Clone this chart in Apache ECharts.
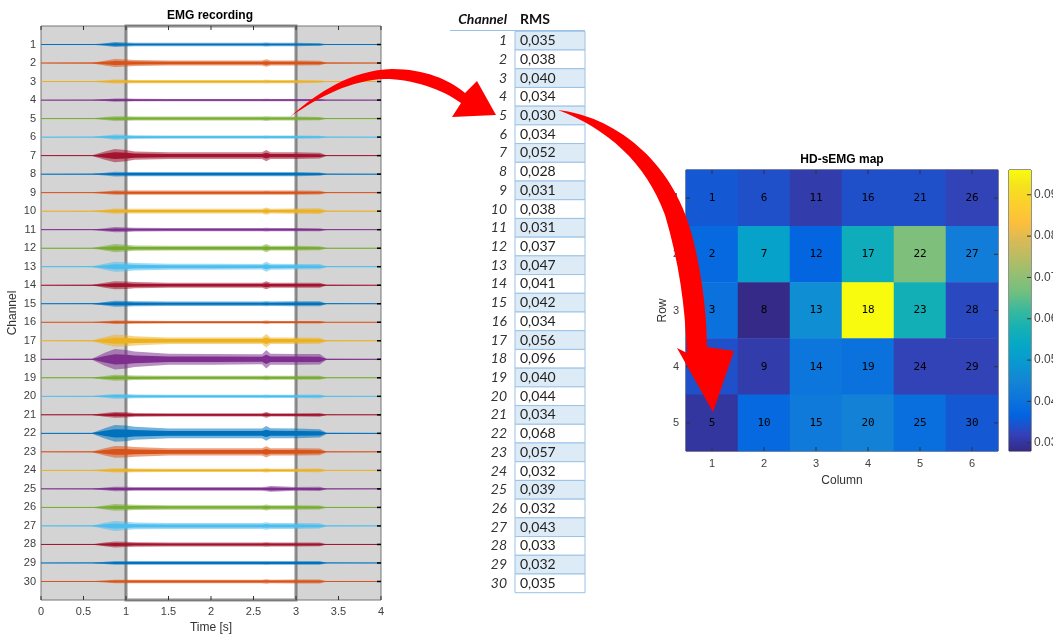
<!DOCTYPE html>
<html><head><meta charset="utf-8">
<script src="https://cdn.jsdelivr.net/npm/echarts@6/dist/echarts.min.js"></script>
<style>html,body{margin:0;padding:0;background:#fff}#c{width:1053px;height:634px}</style>
</head><body><div id="c"></div>
<script>
// ---- data ----
const channels = [1,2,3,4,5,6,7,8,9,10,11,12,13,14,15,16,17,18,19,20,21,22,23,24,25,26,27,28,29,30];
const rmsValues = [0.035,0.038,0.040,0.034,0.030,0.034,0.052,0.028,0.031,0.038,0.031,0.037,0.047,0.041,0.042,0.034,0.056,0.096,0.040,0.044,0.034,0.068,0.057,0.032,0.039,0.032,0.043,0.033,0.032,0.035];
const timeTicks = [0,0.5,1,1.5,2,2.5,3,3.5,4];
// time knots (s) at which the EMG envelope half-amplitude was read
const timeKnots = [0, 0.6, 0.75, 0.87, 1.0, 1.1, 1.5, 2.0, 2.6, 2.65, 2.7, 3.0, 3.28, 3.36, 4.0];
// envelope half-amplitude (channel-spacing units) per channel at timeKnots
const emgEnvelope = [
 [.01,.015,.07,.13,.11,.09,.09,.09,.09,.11,.09,.09,.07,.015,.01],
 [.01,.02,.13,.22,.19,.16,.14,.14,.14,.20,.14,.14,.12,.02,.01],
 [.01,.015,.07,.11,.10,.09,.09,.09,.09,.10,.09,.09,.07,.015,.01],
 [.01,.012,.05,.09,.08,.07,.06,.06,.06,.07,.06,.06,.05,.012,.01],
 [.01,.015,.08,.13,.12,.11,.11,.11,.11,.13,.11,.11,.09,.015,.01],
 [.01,.015,.08,.14,.12,.10,.09,.09,.09,.10,.09,.09,.07,.015,.01],
 [.01,.02,.22,.36,.30,.22,.18,.18,.18,.30,.18,.18,.16,.02,.01],
 [.01,.015,.08,.13,.12,.11,.11,.11,.11,.12,.11,.11,.09,.015,.01],
 [.01,.015,.07,.12,.11,.11,.11,.11,.11,.12,.11,.11,.10,.015,.01],
 [.01,.015,.08,.14,.13,.13,.13,.13,.13,.20,.13,.14,.16,.02,.01],
 [.01,.015,.08,.14,.12,.10,.09,.09,.09,.10,.09,.09,.08,.015,.01],
 [.01,.015,.13,.22,.18,.14,.13,.13,.13,.22,.13,.13,.11,.015,.01],
 [.01,.02,.16,.27,.24,.20,.16,.16,.15,.27,.16,.15,.14,.02,.01],
 [.01,.02,.13,.22,.20,.17,.14,.14,.14,.22,.14,.14,.14,.02,.01],
 [.01,.015,.10,.16,.15,.13,.12,.12,.12,.14,.12,.13,.13,.015,.01],
 [.01,.012,.06,.10,.09,.08,.07,.07,.07,.09,.07,.07,.07,.012,.01],
 [.01,.02,.20,.32,.30,.25,.18,.18,.18,.36,.18,.18,.16,.02,.01],
 [.015,.03,.35,.55,.50,.42,.30,.29,.27,.50,.30,.29,.28,.03,.015],
 [.01,.015,.10,.16,.14,.12,.11,.11,.11,.13,.11,.11,.11,.015,.01],
 [.01,.015,.08,.13,.12,.10,.09,.09,.09,.10,.09,.09,.10,.015,.01],
 [.01,.015,.10,.16,.14,.10,.09,.09,.09,.16,.09,.09,.10,.015,.01],
 [.015,.025,.28,.45,.42,.35,.26,.26,.26,.40,.27,.26,.22,.03,.015],
 [.01,.02,.20,.32,.30,.26,.20,.20,.20,.30,.20,.20,.18,.02,.01],
 [.01,.015,.08,.12,.11,.10,.09,.09,.09,.11,.09,.09,.10,.015,.01],
 [.01,.015,.07,.12,.11,.10,.10,.10,.10,.12,.16,.10,.11,.015,.01],
 [.01,.015,.11,.18,.16,.14,.12,.12,.12,.16,.12,.12,.11,.015,.01],
 [.01,.02,.17,.27,.22,.18,.16,.16,.16,.20,.16,.16,.14,.02,.01],
 [.01,.015,.10,.16,.14,.12,.11,.11,.11,.12,.11,.11,.10,.015,.01],
 [.01,.015,.06,.10,.10,.10,.10,.10,.10,.11,.10,.10,.10,.015,.01],
 [.01,.015,.06,.10,.10,.10,.10,.10,.10,.12,.10,.11,.11,.015,.01]
];
const gridColumns = ['1','2','3','4','5','6'];
const gridRows = ['1','2','3','4','5'];
const colorbarTicks = [0.03,0.04,0.05,0.06,0.07,0.08,0.09];
const mapMin = 0.028, mapMax = 0.096;
const traceColors = ['#0072BD','#D95319','#EDB120','#7E2F8E','#77AC30','#4DBEEE','#A2142F'];
const parulaColors = ['#352A87','#3243BA','#0363E1','#0D75DC','#1485D4','#0998D1','#06A7C6','#15B1B4','#38B99E','#70BF80','#92BF73','#B8BC63','#D9BA56','#FCBF3C','#FCCE2E','#F5E01F','#F9FB0E'];
// annotation arrows (SVG path outlines, page pixels)
const arrowPaths = [
 'M290 117 C318 92 352 70 392 69 C425 69 450 80 465 93 L477 81 L496 115 L452 117 L461 103 C442 89 412 79 385 79 C352 80 320 96 290 117 Z',
 'M558 110 C612 116 672 158 692 235 C703 278 707 318 707 347 L734 351 L713 412 L677 348 L687 353 C685 305 679 262 665 215 C646 162 606 128 558 110 Z'
];

// ---- chart ----
const chart = echarts.init(document.getElementById('c'), null, {renderer:'canvas'});
const FONT = 'Liberation Sans';
const axLbl = {color:'#404040', fontSize:11, fontFamily:FONT};
const heatData = [];
for (let c = 0; c < gridColumns.length; c++) {
  for (let r = 0; r < gridRows.length; r++) {
    const ch = channels[c*gridRows.length + r];
    heatData.push([c, r, rmsValues[ch-1], ch]);
  }
}
const TL = 4; // inward tick length, px
const tickLine = (x1,y1,x2,y2,color,w) => ({type:'line', shape:{x1,y1,x2,y2}, style:{stroke:color||'#333', lineWidth:w||1}});

function traceItem(params, api) {
  const ch = api.value(0);
  const env = emgEnvelope[ch-1];
  const col = traceColors[(ch-1) % traceColors.length];
  const up = [], lo = [], iup = [], ilo = [];
  for (let i = 0; i < timeKnots.length; i++) {
    up.push(api.coord([timeKnots[i], ch - env[i]]));
    lo.push(api.coord([timeKnots[i], ch + env[i]]));
    iup.push(api.coord([timeKnots[i], ch - env[i]*0.5]));
    ilo.push(api.coord([timeKnots[i], ch + env[i]*0.5]));
  }
  const a = api.coord([timeKnots[0], ch]);
  const b = api.coord([timeKnots[timeKnots.length-1], ch]);
  return {type:'group', children:[
    {type:'polygon', shape:{points: up.concat(lo.reverse())}, style:{fill:col, opacity:0.55}},
    {type:'polygon', shape:{points: iup.concat(ilo.reverse())}, style:{fill:col, opacity:1}},
    {type:'line', shape:{x1:a[0], y1:a[1], x2:b[0], y2:b[1]}, style:{stroke:col, lineWidth:1}}
  ]};
}

function emgTicks(params, api) {
  const ch = [];
  timeTicks.forEach(t => {
    const top = api.coord([t, 0]), bot = api.coord([t, 31]);
    ch.push(tickLine(top[0], top[1], top[0], top[1]+TL));
    ch.push(tickLine(bot[0], bot[1], bot[0], bot[1]-TL));
  });
  channels.forEach(c => {
    const r = api.coord([4, c]);
    ch.push(tickLine(r[0]-TL, r[1], r[0], r[1], '#000', 1.5));
  });
  return {type:'group', children:ch};
}

function heatTicks(params, api) {
  const ch = [];
  const sz = api.size([1, 1]);
  const nC = gridColumns.length, nR = gridRows.length;
  const topY = api.coord([0, 0])[1] - sz[1]/2;
  const botY = api.coord([0, nR-1])[1] + sz[1]/2;
  const leftX = api.coord([0, 0])[0] - sz[0]/2;
  const rightX = api.coord([nC-1, 0])[0] + sz[0]/2;
  for (let c = 0; c < nC; c++) {
    const x = api.coord([c, 0])[0];
    ch.push(tickLine(x, topY, x, topY+TL));
    ch.push(tickLine(x, botY, x, botY-TL));
  }
  for (let r = 0; r < nR; r++) {
    const y = api.coord([0, r])[1];
    ch.push(tickLine(leftX, y, leftX+TL, y));
    ch.push(tickLine(rightX, y, rightX-TL, y));
  }
  return {type:'group', children:ch};
}

function tableItem(params, api) {
  const idx = params.dataIndex;
  const yc = api.coord([0, idx])[1];
  const h = api.size([0, 1])[1];
  const x0 = api.coord([0, idx])[0];
  const x1 = api.coord([1, idx])[0];
  const txt = rmsValues[idx].toFixed(3).replace('.', ',');
  return {type:'group', children:[
    {type:'rect', shape:{x:x0, y:yc-h/2, width:x1-x0, height:h},
     style:{fill: idx % 2 === 0 ? '#DDEBF7' : '#FFFFFF', stroke:'#9BC2E6', lineWidth:1}},
    {type:'text', x:x0+5, y:yc, style:{text:txt, fill:'#222', font:'14px Lato', textVerticalAlign:'middle', textAlign:'left'}}
  ]};
}

function colorbarItem(params, api) {
  const p0 = api.coord([0, mapMin]);
  const p1 = api.coord([1, mapMax]);
  const kids = [{type:'rect', shape:{x:p0[0], y:p1[1], width:p1[0]-p0[0], height:p0[1]-p1[1]},
    style:{fill:{type:'linear', x:0, y:1, x2:0, y2:0,
      colorStops: parulaColors.map((c,i)=>({offset:i/(parulaColors.length-1), color:c}))}}}];
  colorbarTicks.forEach(v => {
    const p = api.coord([1, v]);
    kids.push(tickLine(p[0]-TL, p[1], p[0], p[1]));
  });
  return {type:'group', children:kids};
}

function arrowItem(params, api) {
  return {type:'path', shape:{pathData: arrowPaths[params.dataIndex]}, style:{fill:'#FF0000'}};
}

const noTick = {show:false};
const option = {
  animation:false,
  backgroundColor:'#fff',
  grid:[
    {left:41, top:26, width:340, height:574, show:true, backgroundColor:'#D4D4D4', borderColor:'#777', borderWidth:1, containLabel:false, outerBoundsMode:'none'},
    {left:515, top:31.3, width:70, height:561.4, show:false, containLabel:false, outerBoundsMode:'none'},
    {left:686, top:170, width:312, height:281, show:true, borderColor:'#262626', borderWidth:1, containLabel:false, outerBoundsMode:'none'},
    {left:1009, top:170, width:22, height:281, show:true, borderColor:'#262626', borderWidth:1, containLabel:false, outerBoundsMode:'none'}
  ],
  xAxis:[
    {gridIndex:0, type:'value', min:0, max:4, interval:0.5, position:'bottom',
     axisLine:{show:false}, axisTick:noTick,
     axisLabel:Object.assign({margin:6, formatter:v=>String(v)}, axLbl), splitLine:{show:false},
     name:'Time [s]', nameLocation:'middle', nameGap:21, nameTextStyle:{fontSize:12, color:'#333', fontFamily:FONT}},
    {gridIndex:1, type:'value', min:0, max:1, show:false},
    {gridIndex:2, type:'category', data:gridColumns, position:'bottom',
     axisLine:{show:false}, axisTick:noTick,
     axisLabel:Object.assign({margin:7}, axLbl), splitLine:{show:false},
     name:'Column', nameLocation:'middle', nameGap:24, nameTextStyle:{fontSize:12, color:'#333', fontFamily:FONT}},
    {gridIndex:3, type:'value', min:0, max:1, show:false}
  ],
  yAxis:[
    {gridIndex:0, type:'value', min:0, max:31, interval:1, inverse:true, position:'left',
     axisLine:{show:false}, axisTick:noTick,
     axisLabel:Object.assign({margin:5, formatter:v=>(v>=1 && v<=30) ? String(v) : ''}, axLbl), splitLine:{show:false},
     name:'Channel', nameLocation:'middle', nameGap:22, nameTextStyle:{fontSize:12, color:'#333', fontFamily:FONT}},
    {gridIndex:1, type:'category', data:channels.map(String), inverse:true,
     axisLine:{show:false}, axisTick:noTick,
     axisLabel:{margin:8, fontStyle:'italic', fontFamily:'Lato', fontSize:14, color:'#333'}},
    {gridIndex:2, type:'category', data:gridRows, inverse:true, position:'left',
     axisLine:{show:false}, axisTick:noTick,
     axisLabel:Object.assign({margin:7}, axLbl), splitLine:{show:false},
     name:'Row', nameLocation:'middle', nameGap:16, nameTextStyle:{fontSize:12, color:'#333', fontFamily:FONT}},
    {gridIndex:3, type:'value', min:mapMin, max:mapMax, position:'right',
     axisLine:{show:false}, splitLine:{show:false}, axisTick:noTick,
     axisLabel:{margin:3, customValues:colorbarTicks, formatter:v=>v.toFixed(2), color:'#404040', fontSize:12, fontFamily:FONT}}
  ],
  visualMap:{type:'continuous', show:false, min:mapMin, max:mapMax, dimension:2, seriesIndex:4, inRange:{color:parulaColors}},
  series:[
    {type:'line', xAxisIndex:0, yAxisIndex:0, data:[[0,0],[4,0]], symbol:'none', lineStyle:{opacity:0}, z:1, silent:true,
     markArea:{silent:true, itemStyle:{color:'#FFFFFF', borderWidth:0}, data:[[{xAxis:1},{xAxis:3}]]}},
    {type:'custom', xAxisIndex:0, yAxisIndex:0, data:channels.map(c=>[c]), encode:{y:0}, renderItem:traceItem, z:2, silent:true},
    {type:'line', xAxisIndex:0, yAxisIndex:0, data:[[0,0],[4,0]], symbol:'none', lineStyle:{opacity:0}, z:3, silent:true,
     markArea:{silent:true, itemStyle:{color:'rgba(0,0,0,0)', borderColor:'rgba(95,95,95,0.7)', borderWidth:3}, data:[[{xAxis:1},{xAxis:3}]]}},
    {type:'custom', xAxisIndex:1, yAxisIndex:1, data:channels.map((c,i)=>[0,i]), encode:{x:0, y:1}, renderItem:tableItem, silent:true},
    {type:'heatmap', xAxisIndex:2, yAxisIndex:2, data:heatData, silent:true,
     label:{show:true, formatter:p=>String(p.data[3]), color:'#000', fontSize:11, fontFamily:'DejaVu Sans Mono'},
     emphasis:{disabled:true}},
    {type:'custom', xAxisIndex:3, yAxisIndex:3, data:[[0, mapMin]], renderItem:colorbarItem, silent:true},
    {type:'custom', xAxisIndex:0, yAxisIndex:0, data:[[0, 0]], renderItem:emgTicks, z:4, silent:true},
    {type:'custom', xAxisIndex:2, yAxisIndex:2, data:[[0, 0]], renderItem:heatTicks, z:4, silent:true},
    {type:'custom', coordinateSystem:'none', data:arrowPaths.map((p,i)=>[i]), renderItem:arrowItem, z:100, silent:true}
  ],
  graphic:[
    {type:'text', x:210, y:16, z:50, style:{text:'EMG recording', font:'bold 12px Liberation Sans', fill:'#000', textAlign:'center', textVerticalAlign:'middle'}},
    {type:'text', x:842, y:160, z:50, style:{text:'HD-sEMG map', font:'bold 12px Liberation Sans', fill:'#000', textAlign:'center', textVerticalAlign:'middle'}},
    {type:'text', x:507, y:19, z:50, style:{text:'Channel', font:'italic bold 14px Lato', fill:'#111', textAlign:'right', textVerticalAlign:'middle'}},
    {type:'text', x:520, y:19, z:50, style:{text:'RMS', font:'bold 14px Lato', fill:'#111', textAlign:'left', textVerticalAlign:'middle'}},
    {type:'line', z:50, shape:{x1:450, y1:30.5, x2:585, y2:30.5}, style:{stroke:'#9BC2E6', lineWidth:1}}
  ]
};
chart.setOption(option);
</script></body></html>
